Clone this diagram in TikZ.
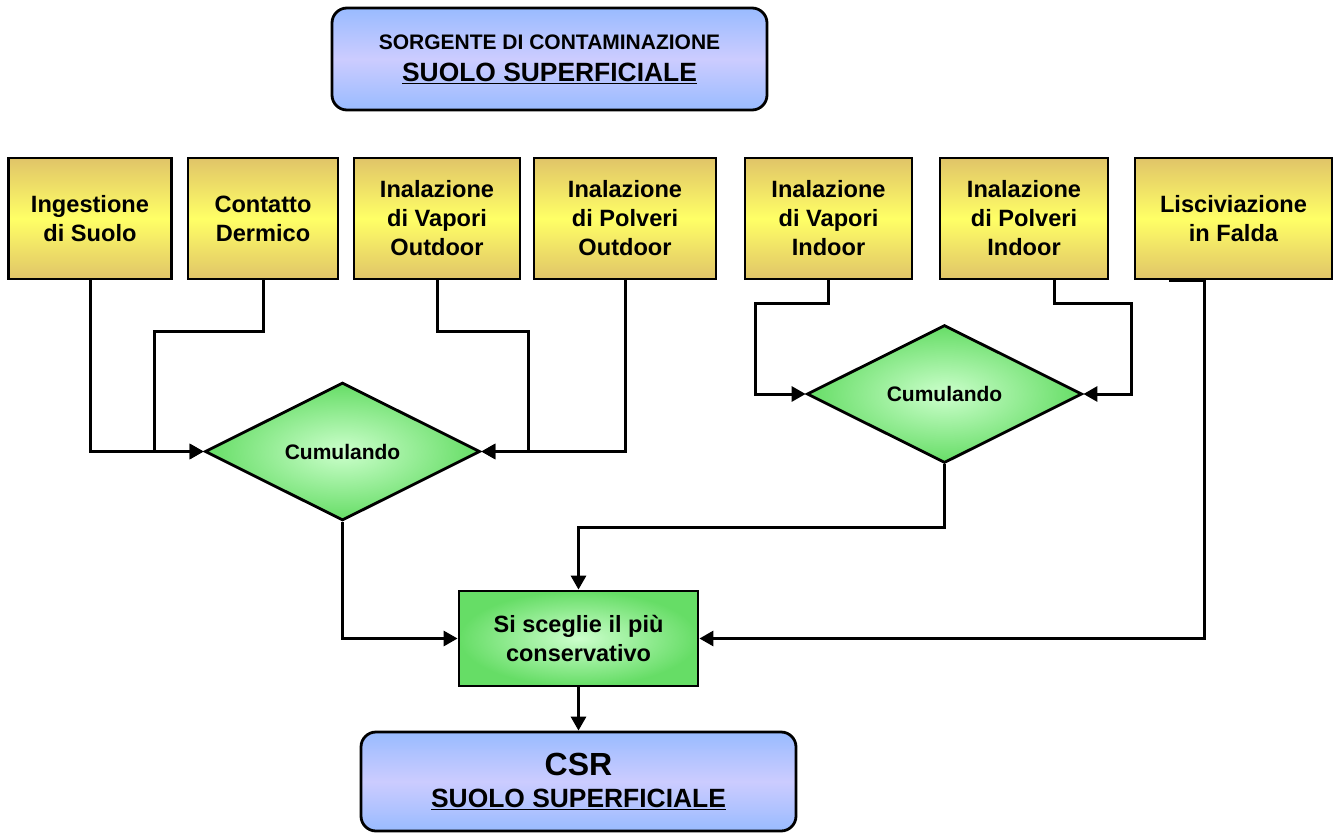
\documentclass[tikz,border=0pt]{standalone}
\usepackage{fontspec}
\setmainfont{Liberation Sans}
\usetikzlibrary{arrows.meta,calc,positioning,shapes.geometric}
\definecolor{ChartInk}{HTML}{000000}
\definecolor{ChartTan}{HTML}{E0C468}
\definecolor{ChartYellow}{HTML}{FFFF66}
\definecolor{ChartBlue}{HTML}{99BBFF}
\definecolor{ChartLilac}{HTML}{CCCCFF}
\definecolor{ChartGreen}{HTML}{66DD66}
\definecolor{ChartMint}{HTML}{CCFFCC}
\tikzset{
  every node/.style={font=\bfseries, text=ChartInk},
  source/.style={draw=ChartInk, line width=2.8pt, rounded corners=15pt, top color=ChartBlue, bottom color=ChartBlue, middle color=ChartLilac, align=center, minimum width=435pt, inner sep=0pt},
  pathway/.style={draw=ChartInk, line width=2.8pt, top color=ChartTan, bottom color=ChartTan, middle color=ChartYellow, align=center, minimum height=121pt, inner sep=0pt, font=\bfseries\fontsize{23.6}{29}\selectfont},
  merge/.style={diamond, draw=ChartInk, line width=2.8pt, inner color=ChartMint, outer color=ChartGreen, minimum width=275pt, minimum height=138pt, inner sep=0pt, font=\bfseries\fontsize{21}{25}\selectfont},
  choice/.style={draw=ChartInk, line width=2.8pt, inner color=ChartMint, outer color=ChartGreen, align=center, minimum width=239pt, minimum height=95pt, inner sep=0pt, font=\bfseries\fontsize{23.5}{29}\selectfont},
  link/.style={-{Triangle[length=14pt,width=15pt]}, draw=ChartInk, line width=3pt},
}
\begin{document}
\begin{tikzpicture}[x=1pt, y=-1pt]
  \useasboundingbox (0,0) rectangle (1340,832);
  % Source
  \node[source, minimum height=102pt, font=\bfseries\fontsize{26.4}{27}\selectfont] (src) at (549.5,59)
    {{\fontsize{21}{25}\selectfont SORGENTE DI CONTAMINAZIONE}\\[5pt]\underline{SUOLO SUPERFICIALE}};
  % Exposure pathways
  \node[pathway, minimum width=163pt] (ing) at (90,218.5) {Ingestione\\di Suolo};
  \node[pathway, minimum width=150pt] (con) at (263,218.5) {Contatto\\Dermico};
  \node[pathway, minimum width=166pt] (vapout) at (437,218.5) {Inalazione\\di Vapori\\Outdoor};
  \node[pathway, minimum width=182pt] (polout) at (625,218.5) {Inalazione\\di Polveri\\Outdoor};
  \node[pathway, minimum width=167pt] (vapin) at (828.5,218.5) {Inalazione\\di Vapori\\Indoor};
  \node[pathway, minimum width=168pt] (polin) at (1024,218.5) {Inalazione\\di Polveri\\Indoor};
  \node[pathway, minimum width=197pt] (lis) at (1233.5,218.5) {Lisciviazione\\in Falda};
  % Merging
  \node[merge] (dia1) at (342.5,451.5) {Cumulando};
  \node[merge] (dia2) at (944.5,394) {Cumulando};
  \node[choice] (pick) at (578.5,638.5) {Si sceglie il più\\conservativo};
  % Result
  \node[source, minimum height=99pt, font=\bfseries\fontsize{26.4}{28}\selectfont] (csr) at (578.5,781.5)
    {{\fontsize{32}{32}\selectfont CSR}\\[4pt]\underline{SUOLO SUPERFICIALE}};
  % Connectors
  \draw[link] (ing.south) |- (dia1.west);
  \draw[link] (con.south) -- ++(0,51) -| ([xshift=-49pt]dia1.west) -- (dia1.west);
  \draw[link] (vapout.south) -- ++(0,51) -| ([xshift=47pt]dia1.east) -- (dia1.east);
  \draw[link] (polout.south) |- (dia1.east);
  \draw[link] (vapin.south) -- ++(0,23) -| ([xshift=-50pt]dia2.west) -- (dia2.west);
  \draw[link] ([xshift=30pt]polin.south) -- ++(0,23) -| ([xshift=48pt]dia2.east) -- (dia2.east);
  \draw[link] ([xshift=-65pt]lis.south) -- ([xshift=-29.5pt]lis.south) |- (pick.east);
  \draw[link] (dia1.south) |- (pick.west);
  \draw[link] (dia2.south) -- ++(0,63) -| (pick.north);
  \draw[link] (pick.south) -- (csr.north);
\end{tikzpicture}
\end{document}
